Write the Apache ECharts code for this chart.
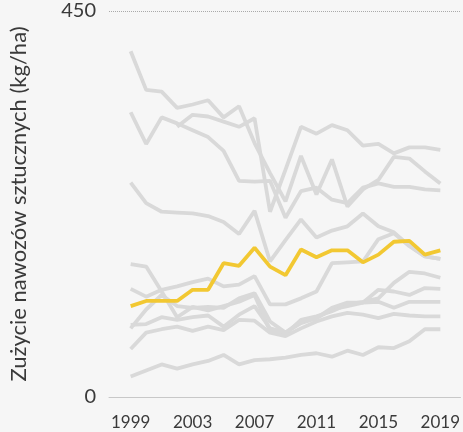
<!DOCTYPE html>
<html lang="pl">
<head>
    <meta charset="UTF-8">
    <title>Zużycie nawozów</title>
    <script src="https://cdn.jsdelivr.net/npm/echarts@6/dist/echarts.min.js"></script>
    <style>
        *{
            margin: 0;
            padding: 0;
        }
        body{
            background: #f6f6f6;
        }
        .container{
            width: 463px;
            height: 432px;
        }
    </style>
</head>
<body>
<div class="container"></div>
<script>
    // lata 1999-2019
    let years = [];
    for (let y = 1999; y <= 2019; y++) years.push(y);
    let yearLabels = [1999, 2003, 2007, 2011, 2015, 2019];

    // kraje w tle (szare)
    let grey1 = [403,358,356,337,341,346,326,339,296,261,228,281,236,277,222,242,253,280,278,263,249];
    let grey2 = [332,295,326,319,311,303,287,252,251,252,209,240,244,230,226,244,249,245,245,242,241];
    let grey3 = [null,null,null,315,329,327,321,315,325,216,265,315,307,317,311,293,295,284,291,291,288];
    let grey4 = [250,226,216,215,214,211,204,190,217,158,183,207,186,194,199,214,199,192,176,164,161];
    let grey5 = [155,152,123,93,105,101,106,111,119,77,73,90,94,100,108,111,115,133,146,144,139];
    let grey6 = [126,117,125,129,134,138,129,131,141,108,108,115,123,156,157,158,184,191,176,164,161];
    let grey7 = [84,85,93,90,93,95,82,96,106,80,75,86,92,102,106,110,125,123,119,127,126];
    let grey8 = [80,102,119,106,104,105,104,115,121,88,75,88,92,104,110,110,111,104,111,111,111];
    let grey9 = [56,75,79,82,77,82,78,90,89,75,71,80,88,94,98,96,92,97,95,94,94];
    let grey10 = [24,31,38,33,38,42,49,38,43,44,46,49,51,47,54,49,58,57,65,79,79];

    // wyróżniony kraj (żółty)
    let highlight = [106,112,112,112,125,125,156,153,174,152,142,172,163,171,171,157,166,181,182,166,171];

    let greys = [grey1, grey2, grey3, grey4, grey5, grey6, grey7, grey8, grey9, grey10];

    let pairs = arr => years.map((y, i) => [y, arr[i]]);

    let series = greys.map(arr => ({
        type: 'line',
        data: pairs(arr),
        symbol: 'none',
        silent: true,
        lineStyle: {color: '#d9d9d9', width: 3.8},
        z: 2
    }));

    series.push({
        type: 'line',
        data: pairs(highlight),
        symbol: 'none',
        lineStyle: {color: '#f2c832', width: 3.8},
        z: 3
    });

    let mycharts = echarts.init(document.querySelector('.container'));

    let option = {
        backgroundColor: '#f6f6f6',
        animation: false,
        grid: {left: 108, right: 0, top: 11, bottom: 35},
        xAxis: {
            type: 'value',
            min: 1997.6,
            max: 2020.3,
            splitLine: {show: false},
            axisTick: {show: false},
            axisLine: {show: true, lineStyle: {color: '#c8c8c8', width: 1}},
            axisLabel: {
                customValues: yearLabels,
                formatter: v => String(v),
                color: '#3a3a3a',
                fontFamily: 'Lato',
                fontSize: 17,
                margin: 17
            }
        },
        yAxis: {
            type: 'value',
            min: 0,
            max: 450,
            interval: 450,
            name: 'Zużycie nawozów sztucznych (kg/ha)',
            nameLocation: 'middle',
            nameGap: 79,
            nameTextStyle: {color: '#3a3a3a', fontFamily: 'Lato', fontSize: 22},
            axisLine: {show: false},
            axisTick: {show: false},
            splitLine: {lineStyle: {type: 'dotted', color: '#aaa', width: 1}},
            axisLabel: {color: '#3a3a3a', fontFamily: 'Lato', fontSize: 20, margin: 13}
        },
        series
    };

    mycharts.setOption(option);
</script>
</body>
</html>
